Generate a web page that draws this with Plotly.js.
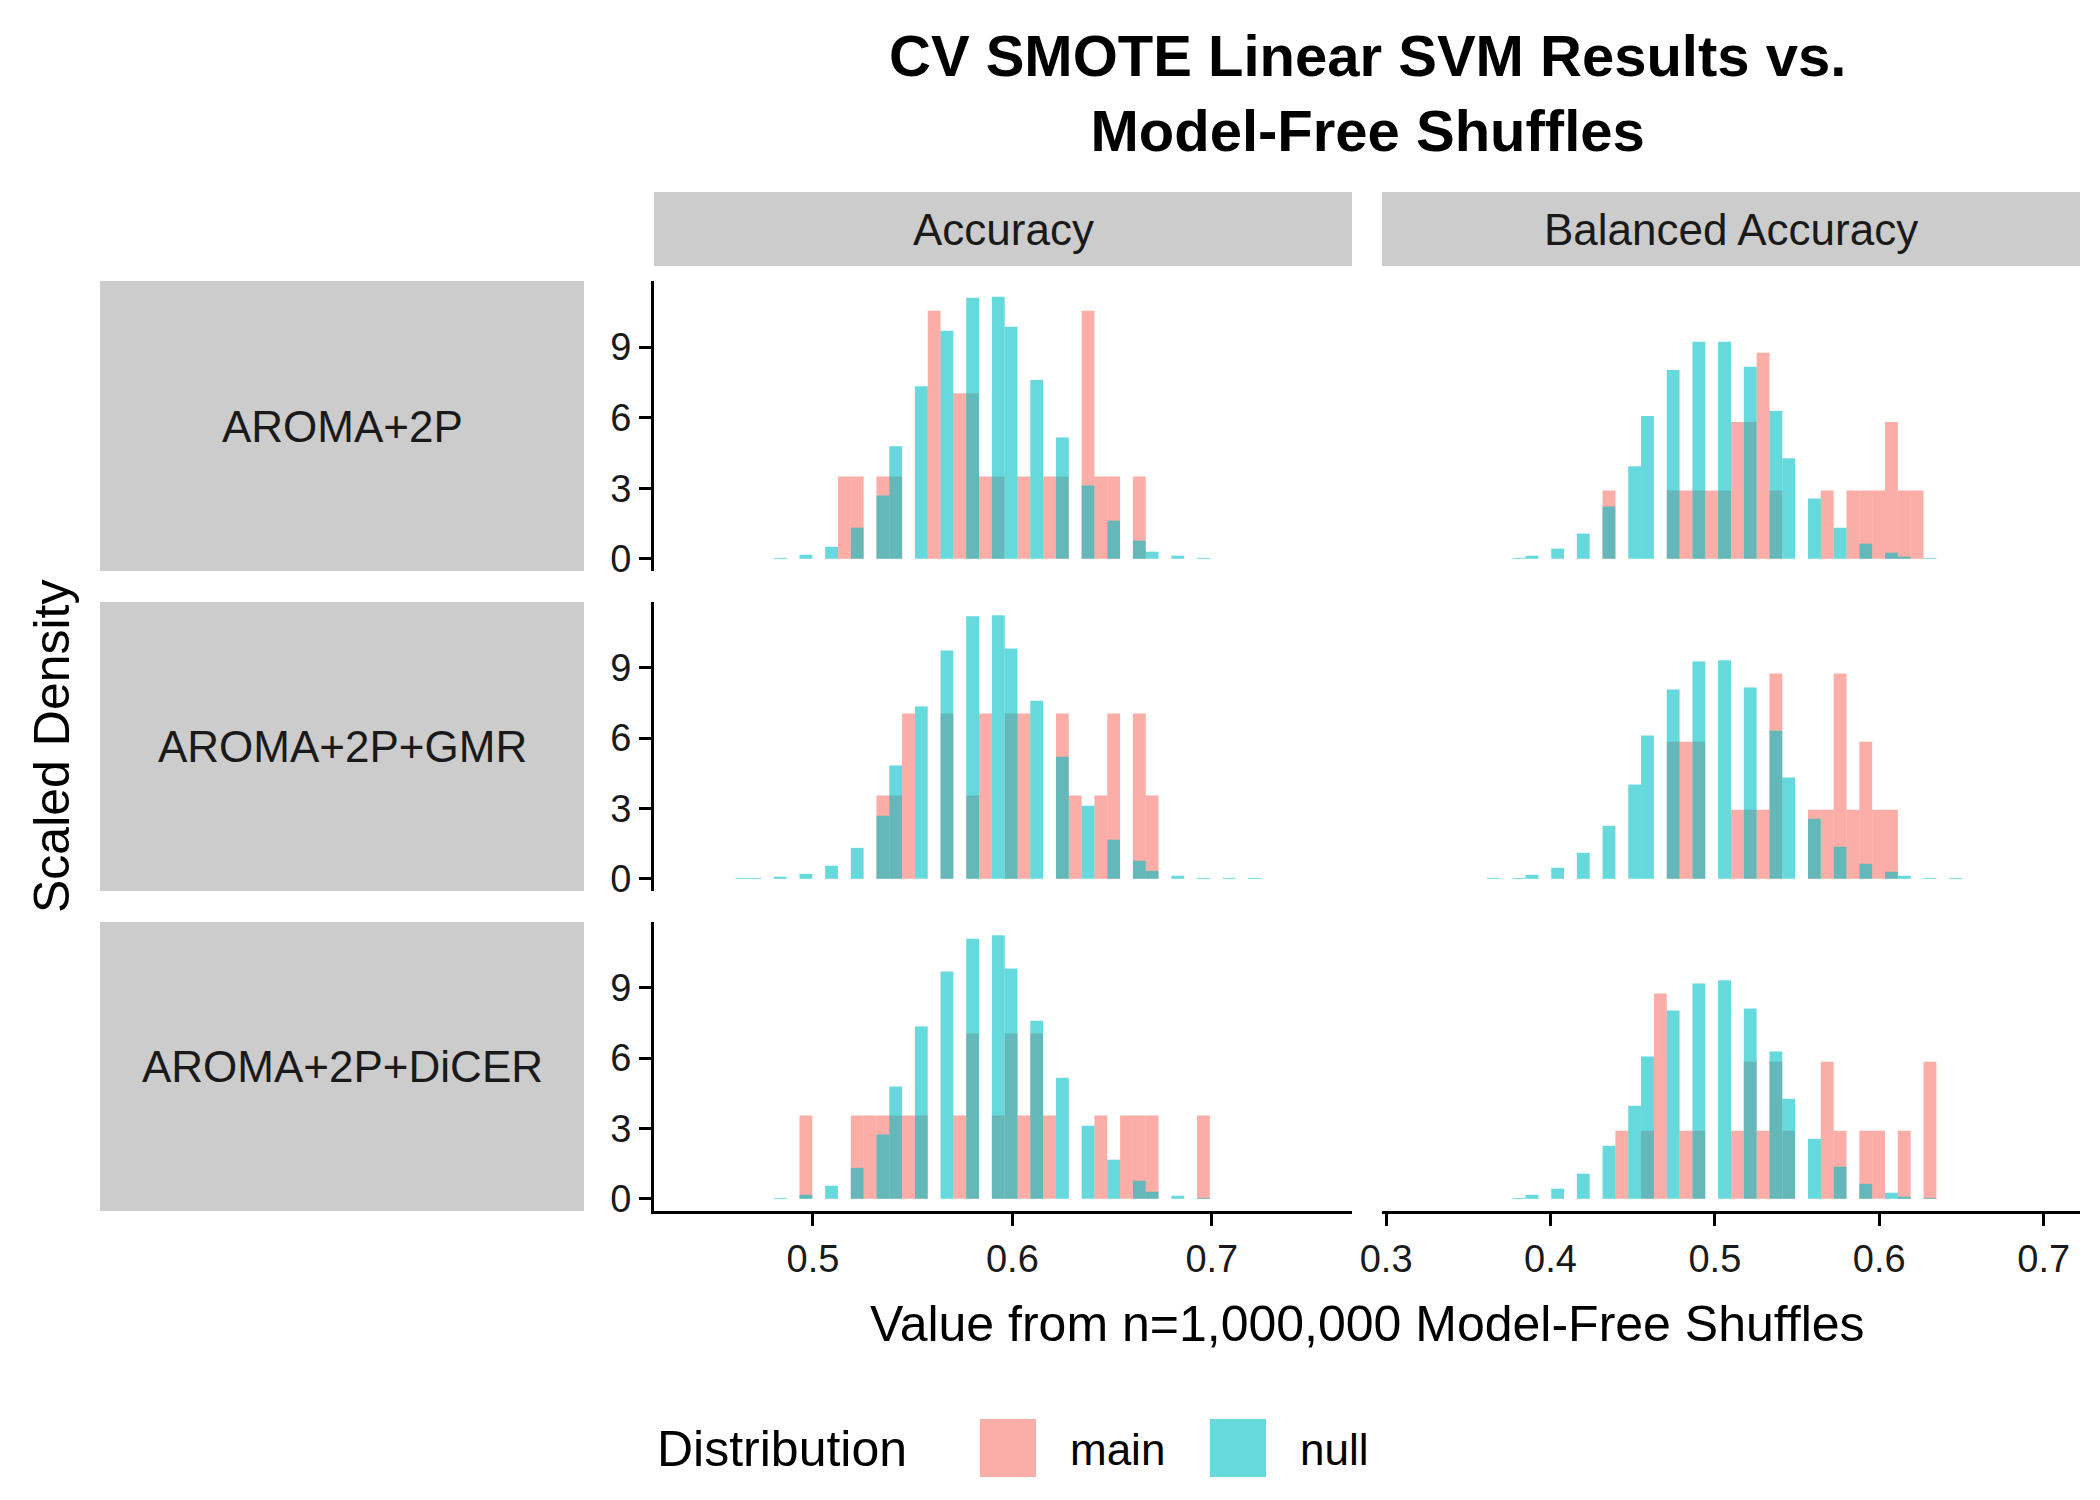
<!DOCTYPE html>
<html>
<head>
<meta charset="utf-8">
<script src="https://cdn.plot.ly/plotly-3.0.1.min.js"></script>
<style>body{margin:0;background:#fff}#chart{width:2100px;height:1500px}</style>
</head>
<body>
<div id="chart"></div>
<script>
// histogram bins: [bin index, scaled density]
const accBinStart = 0.4804, accBinWidth = 0.00643;
const balBinStart = 0.3770, balBinWidth = 0.00781;

const rowLabels = ['AROMA+2P', 'AROMA+2P+GMR', 'AROMA+2P+DiCER'];
const colLabels = ['Accuracy', 'Balanced Accuracy'];

const accMain1 = [[5,3.5],[6,3.5],[8,3.5],[9,3.5],[12,10.54],[14,7.04],[15,7.04],[16,3.5],[17,3.5],[19,3.5],[21,3.5],[22,3.5],[24,10.54],[25,3.5],[26,3.5],[28,3.5]];
const accNull1 = [[0,0.04],[2,0.17],[4,0.51],[6,1.32],[8,2.69],[9,4.78],[11,7.34],[13,9.69],[15,11.1],[17,11.14],[18,9.86],[20,7.6],[22,5.16],[24,3.12],[26,1.62],[28,0.77],[29,0.3],[31,0.13],[33,0.04]];
const balMain1 = [[7,2.9],[12,2.9],[13,2.9],[14,2.9],[15,2.9],[16,2.9],[17,5.81],[18,5.81],[19,8.76],[20,2.9],[24,2.9],[26,2.9],[27,2.9],[28,2.9],[29,5.81],[30,2.9],[31,2.9]];
const balNull1 = [[0,0.04],[1,0.13],[3,0.43],[5,1.07],[7,2.22],[9,3.93],[10,6.07],[12,8.03],[14,9.23],[16,9.23],[18,8.16],[20,6.28],[21,4.27],[23,2.56],[25,1.32],[27,0.64],[29,0.26],[30,0.09],[32,0.04]];

const accMain2 = [[8,3.55],[9,3.55],[10,7.05],[13,7.05],[15,3.55],[16,7.05],[18,7.05],[19,7.05],[22,7.05],[23,3.55],[25,3.55],[26,7.05],[28,7.05],[29,3.55]];
const accNull2 = [[-3,0.04],[-2,0.04],[0,0.09],[2,0.21],[4,0.56],[6,1.32],[8,2.69],[9,4.83],[11,7.35],[13,9.74],[15,11.2],[17,11.24],[18,9.83],[20,7.6],[22,5.21],[24,3.12],[26,1.67],[28,0.77],[29,0.34],[31,0.13],[33,0.04],[35,0.04],[37,0.04]];
const balMain2 = [[12,5.85],[13,5.85],[14,5.85],[17,2.95],[18,2.95],[19,2.95],[20,8.76],[23,2.95],[24,2.95],[25,8.76],[26,2.95],[27,5.85],[28,2.95],[29,2.95]];
const balNull2 = [[-2,0.04],[0,0.04],[1,0.17],[3,0.47],[5,1.11],[7,2.26],[9,4.02],[10,6.11],[12,8.08],[14,9.27],[16,9.32],[18,8.16],[20,6.32],[21,4.32],[23,2.56],[25,1.37],[27,0.64],[29,0.3],[30,0.13],[32,0.04],[34,0.04]];

const accMain3 = [[2,3.55],[6,3.55],[7,3.55],[8,3.55],[9,3.55],[10,3.55],[11,3.55],[14,3.55],[15,7.05],[17,3.55],[18,7.05],[19,3.55],[20,7.05],[21,3.55],[25,3.55],[27,3.55],[28,3.55],[29,3.55],[33,3.55]];
const accNull3 = [[0,0.04],[2,0.17],[4,0.56],[6,1.32],[8,2.74],[9,4.79],[11,7.35],[13,9.7],[15,11.1],[17,11.24],[18,9.83],[20,7.6],[22,5.17],[24,3.12],[26,1.67],[28,0.77],[29,0.3],[31,0.13],[33,0.04]];
const balMain3 = [[8,2.9],[10,2.9],[11,8.76],[13,2.9],[14,2.9],[17,2.9],[18,5.85],[19,2.9],[20,5.85],[21,2.9],[24,5.85],[25,2.9],[27,2.9],[28,2.9],[30,2.9],[32,5.85]];
const balNull3 = [[0,0.04],[1,0.17],[3,0.43],[5,1.07],[7,2.26],[9,3.97],[10,6.07],[12,8.03],[14,9.19],[16,9.32],[18,8.12],[20,6.28],[21,4.27],[23,2.56],[25,1.37],[27,0.64],[29,0.26],[30,0.09],[32,0.04]];

const mainColor = 'rgba(248,118,109,0.6)';
const nullColor = 'rgba(0,191,196,0.6)';
const font = 'Liberation Sans, Arial, sans-serif';

const panels = [
    [accMain1, accNull1, balMain1, balNull1],
    [accMain2, accNull2, balMain2, balNull2],
    [accMain3, accNull3, balMain3, balNull3],
];

// pixel geometry (2100x1500 paper)
const W = 2100, H = 1500;
const colPx = [[654, 1352], [1382, 2080]];
const rowPx = [[281, 571], [602, 891], [922, 1211]];
const px = v => v / W;
const py = v => 1 - v / H;

const traces = [];
const layout = {
    width: W, height: H,
    margin: {l: 0, r: 0, t: 0, b: 0},
    paper_bgcolor: 'white', plot_bgcolor: 'white',
    barmode: 'overlay',
    showlegend: false,
    font: {family: font, color: 'black'},
    shapes: [], annotations: [],
};

function binTrace(data, start, width, color, n) {
    return {
        type: 'bar',
        x: data.map(d => start + (d[0] + 0.5) * width),
        y: data.map(d => d[1]),
        width: width,
        marker: {color: color, line: {width: 0}},
        xaxis: 'x' + (n === 1 ? '' : n),
        yaxis: 'y' + (n === 1 ? '' : n),
        hoverinfo: 'skip',
    };
}

for (let r = 0; r < 3; r++) {
    for (let c = 0; c < 2; c++) {
        const n = r * 2 + c + 1;
        const start = c === 0 ? accBinStart : balBinStart;
        const width = c === 0 ? accBinWidth : balBinWidth;
        traces.push(binTrace(panels[r][c * 2], start, width, mainColor, n));
        traces.push(binTrace(panels[r][c * 2 + 1], start, width, nullColor, n));

        const bottom = r === 2;
        const left = c === 0;
        layout['xaxis' + (n === 1 ? '' : n)] = {
            domain: [px(colPx[c][0]), px(colPx[c][1])],
            anchor: 'y' + (n === 1 ? '' : n),
            range: c === 0 ? [0.4203, 0.7703] : [0.2975, 0.7221],
            tickvals: c === 0 ? [0.5, 0.6, 0.7] : [0.3, 0.4, 0.5, 0.6, 0.7],
            showticklabels: bottom,
            ticks: bottom ? 'outside' : '',
            ticklen: 12, tickwidth: 3, tickcolor: 'black',
            showline: bottom, linewidth: 3, linecolor: 'black',
            showgrid: false, zeroline: false,
            tickfont: {size: 38, color: '#1a1a1a'},
        };
        layout['yaxis' + (n === 1 ? '' : n)] = {
            domain: [py(rowPx[r][1]), py(rowPx[r][0])],
            anchor: 'x' + (n === 1 ? '' : n),
            range: [-0.52, 11.81],
            tickvals: [0, 3, 6, 9],
            showticklabels: left,
            ticks: left ? 'outside' : '',
            ticklen: 12, tickwidth: 3, tickcolor: 'black',
            showline: left, linewidth: 3, linecolor: 'black',
            showgrid: false, zeroline: false,
            tickfont: {size: 38, color: '#1a1a1a'},
        };
    }
}

// column strips
colLabels.forEach((lab, c) => {
    layout.shapes.push({type: 'rect', xref: 'paper', yref: 'paper', x0: px(colPx[c][0]), x1: px(colPx[c][1]),
        y0: py(266), y1: py(192), fillcolor: '#cccccc', line: {width: 0}, layer: 'below'});
    layout.annotations.push({xref: 'paper', yref: 'paper', x: px((colPx[c][0] + colPx[c][1]) / 2), y: py(229),
        text: lab, showarrow: false, font: {size: 44, color: '#1a1a1a'}, xanchor: 'center', yanchor: 'middle'});
});
// row strips
rowLabels.forEach((lab, r) => {
    layout.shapes.push({type: 'rect', xref: 'paper', yref: 'paper', x0: px(100), x1: px(584),
        y0: py(rowPx[r][1]), y1: py(rowPx[r][0]), fillcolor: '#cccccc', line: {width: 0}, layer: 'below'});
    layout.annotations.push({xref: 'paper', yref: 'paper', x: px(342), y: py((rowPx[r][0] + rowPx[r][1]) / 2),
        text: lab, showarrow: false, font: {size: 44, color: '#1a1a1a'}, xanchor: 'center', yanchor: 'middle'});
});

// titles
layout.annotations.push({xref: 'paper', yref: 'paper', x: px(1367), y: py(93),
    text: '<b>CV SMOTE Linear SVM Results vs.<br>Model-Free Shuffles</b>', showarrow: false,
    font: {size: 58, color: 'black'}, align: 'center', xanchor: 'center', yanchor: 'middle'});
layout.annotations.push({xref: 'paper', yref: 'paper', x: px(1367), y: py(1324),
    text: 'Value from n=1,000,000 Model-Free Shuffles', showarrow: false,
    font: {size: 50, color: 'black'}, xanchor: 'center', yanchor: 'middle'});
layout.annotations.push({xref: 'paper', yref: 'paper', x: px(52), y: py(746),
    text: 'Scaled Density', showarrow: false, textangle: -90,
    font: {size: 50, color: 'black'}, xanchor: 'center', yanchor: 'middle'});

// legend
layout.annotations.push({xref: 'paper', yref: 'paper', x: px(655), y: py(1449),
    text: 'Distribution', showarrow: false, font: {size: 50, color: 'black'}, xanchor: 'left', yanchor: 'middle'});
[['main', mainColor, 980], ['null', nullColor, 1210]].forEach(([lab, col, x0]) => {
    layout.shapes.push({type: 'rect', xref: 'paper', yref: 'paper', x0: px(x0), x1: px(x0 + 56),
        y0: py(1477), y1: py(1419), fillcolor: col, line: {width: 0}});
    layout.annotations.push({xref: 'paper', yref: 'paper', x: px(x0 + 88), y: py(1449),
        text: lab, showarrow: false, font: {size: 44, color: 'black'}, xanchor: 'left', yanchor: 'middle'});
});

Plotly.newPlot('chart', traces, layout, {staticPlot: true});
</script>
</body>
</html>
